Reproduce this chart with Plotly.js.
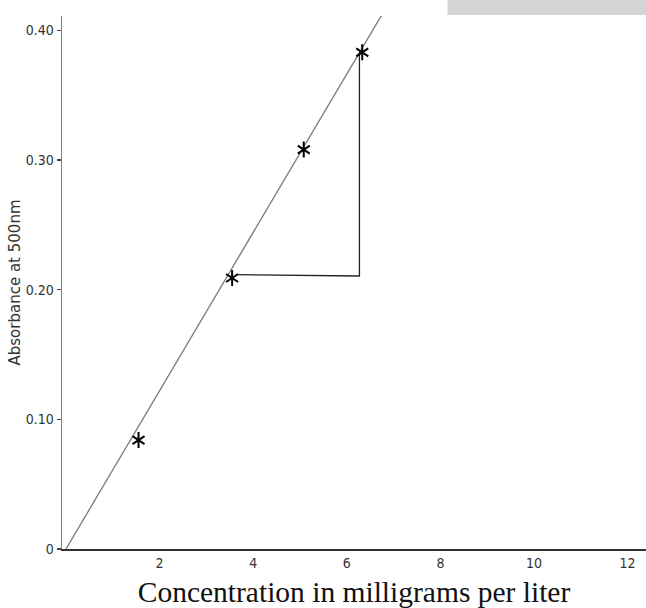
<!DOCTYPE html>
<html>
<head>
<meta charset="utf-8">
<script src="https://cdn.plot.ly/plotly-3.0.1.min.js"></script>
<style>html,body{margin:0;padding:0;background:#fff;}#chart{width:646px;height:608px;}</style>
</head>
<body>
<div id="chart"></div>
<script>
// Measured points (concentration mg/L, absorbance)
var concentration = [1.55, 3.55, 5.08, 6.33];
var absorbance = [0.084, 0.209, 0.308, 0.383];
// Fitted calibration line
var fitX = [0, 6.75];
var fitY = [0, 0.412];
// Slope triangle
var triX = [3.64, 6.27, 6.27];
var triY = [0.2116, 0.2105, 0.383];
// Tick labels
var xTickVals = [2, 4, 6, 8, 10, 12];
var xTickText = ["2", "4", "6", "8", "10", "12"];
var yTickVals = [0, 0.1, 0.2, 0.3, 0.4];
var yTickText = ["0", "0.10", "0.20", "0.30", "0.40"];

var narrow = '"Liberation Sans Narrow", "Noto Sans Condensed", "DejaVu Sans Condensed", sans-serif';

var traces = [
  {x: fitX, y: fitY, mode: 'lines', line: {color: '#7a7a7a', width: 1.3}, hoverinfo: 'skip'},
  {x: triX, y: triY, mode: 'lines', line: {color: '#222', width: 1.3}, hoverinfo: 'skip'},
  {x: concentration, y: absorbance, mode: 'markers', cliponaxis: false,
   marker: {symbol: 'y-up-open', size: 10, color: '#000', line: {color: '#000', width: 2}}},
  {x: concentration, y: absorbance, mode: 'markers', cliponaxis: false,
   marker: {symbol: 'y-down-open', size: 10, color: '#000', line: {color: '#000', width: 2}}}
];

var layout = {
  width: 646, height: 608,
  margin: {l: 62, r: 0, t: 16, b: 59},
  paper_bgcolor: '#fff', plot_bgcolor: '#fff',
  showlegend: false,
  xaxis: {
    range: [-0.0855, 12.393], showgrid: false, zeroline: false,
    showline: true, linecolor: '#333', linewidth: 2,
    tickvals: xTickVals, ticktext: xTickText, ticks: '',
    tickfont: {family: narrow, size: 14, color: '#333'},
    title: {text: 'Concentration in milligrams per liter', standoff: 12,
            font: {family: '"Liberation Serif", "Times New Roman", serif', size: 29.5, color: '#111'}}
  },
  yaxis: {
    range: [0, 0.411], showgrid: false, zeroline: false,
    showline: true, linecolor: '#808080', linewidth: 1.5,
    tickvals: yTickVals, ticktext: yTickText, ticks: 'outside', ticklen: 4, tickcolor: '#444', tickwidth: 1.2,
    tickfont: {family: narrow, size: 14, color: '#333'},
    title: {text: 'Absorbance at 500nm', standoff: 1,
            font: {family: '"DejaVu Sans", Verdana, sans-serif', size: 15, color: '#333'}}
  },
  shapes: [
    {type: 'rect', xref: 'paper', yref: 'paper', x0: 0.66, x1: 1, y0: 1.002, y1: 1.035,
     fillcolor: '#d4d4d4', line: {width: 0}, layer: 'below'}
  ]
};

Plotly.newPlot('chart', traces, layout, {displayModeBar: false, staticPlot: true});
</script>
</body>
</html>
